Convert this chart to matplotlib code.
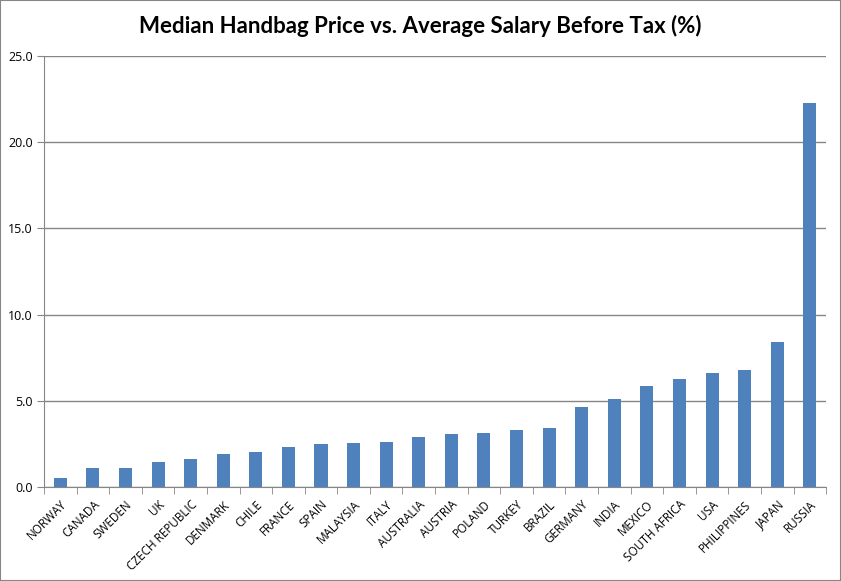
import numpy as np
import matplotlib.pyplot as plt

# Median handbag price as % of average salary before tax
countries = ['NORWAY', 'CANADA', 'SWEDEN', 'UK', 'CZECH REPUBLIC', 'DENMARK',
             'CHILE', 'FRANCE', 'SPAIN', 'MALAYSIA', 'ITALY', 'AUSTRALIA',
             'AUSTRIA', 'POLAND', 'TURKEY', 'BRAZIL', 'GERMANY', 'INDIA',
             'MEXICO', 'SOUTH AFRICA', 'USA', 'PHILIPPINES', 'JAPAN', 'RUSSIA']
values = [0.54, 1.12, 1.12, 1.46, 1.63, 1.92, 2.04, 2.33, 2.50, 2.56, 2.62, 2.90,
          3.06, 3.12, 3.29, 3.40, 4.62, 5.13, 5.83, 6.29, 6.63, 6.81, 8.42, 22.25]
yticks = [0, 5, 10, 15, 20, 25]

axis_col = '#868686'

fig = plt.figure(figsize=(8.41, 5.81), dpi=100)
fig.patches.append(plt.Rectangle((0, 0), 1, 1, transform=fig.transFigure,
                                 fill=False, edgecolor=axis_col, linewidth=1.5))
ax = fig.add_axes([0.0523, 0.1618, 0.930, 0.742])

x = np.arange(len(countries))
ax.bar(x, values, width=0.4, color='#4F81BD', zorder=3)

ax.set_xlim(-0.5, len(countries) - 0.5)
ax.set_ylim(0, 25)
ax.set_yticks(yticks)
ax.set_yticklabels(['%.1f' % v for v in yticks], fontsize=9, family='Open Sans')
ax.yaxis.grid(True, color=axis_col, linewidth=1, zorder=0)

ax.set_xticks(x)
ax.set_xticklabels(countries, rotation=45, ha='right', rotation_mode='anchor',
                   fontsize=8.5, family='Open Sans')
ax.set_xticks(np.arange(-0.5, len(countries)), minor=True)
ax.tick_params(axis='x', which='major', length=0, pad=8)
ax.tick_params(axis='x', which='minor', length=5, color=axis_col)
ax.tick_params(axis='y', length=5, color=axis_col, pad=3)

for side in ['top', 'right']:
    ax.spines[side].set_visible(False)
for side in ['left', 'bottom']:
    ax.spines[side].set_color(axis_col)

fig.text(0.5, 0.955, 'Median Handbag Price vs. Average Salary Before Tax (%)',
         ha='center', va='center', fontsize=16, fontweight='bold', family='Lato')

plt.savefig('out.png')
